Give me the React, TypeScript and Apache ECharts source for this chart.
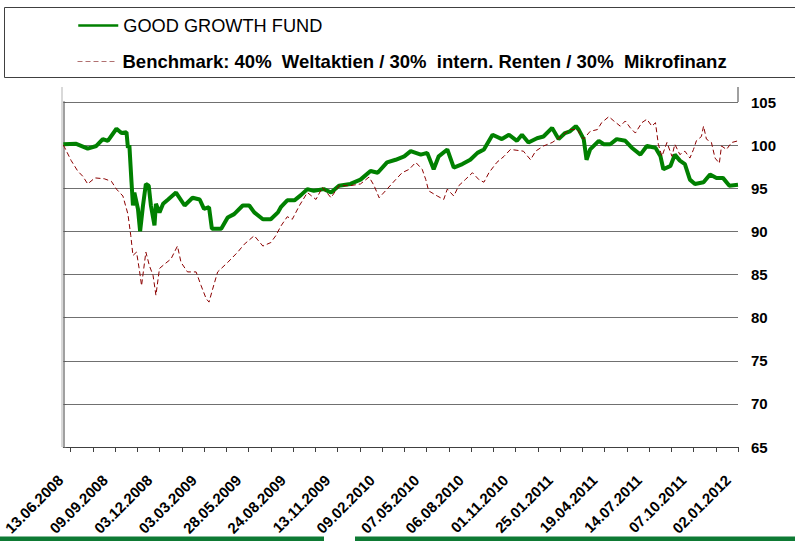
import React, { useEffect, useRef } from "react";
import * as echarts from "echarts";

const FUND_NAME = "GOOD GROWTH FUND";
const BENCH_NAME = "Benchmark: 40%  Weltaktien / 30%  intern. Renten / 30%  Mikrofinanz";

const tickLabels = [
  "13.06.2008", "09.09.2008", "03.12.2008", "03.03.2009", "28.05.2009", "24.08.2009",
  "13.11.2009", "09.02.2010", "07.05.2010", "06.08.2010", "01.11.2010", "25.01.2011",
  "19.04.2011", "14.07.2011", "07.10.2011", "02.01.2012",
];

// [trading day index, value]
const fundSeries: [number, number][] = [
  [0, 100.1], [18, 100.15], [34, 99.6], [46, 99.9], [55, 100.7], [62, 100.5], [74, 101.9], [81, 101.4],
  [88, 101.5], [90, 99.7], [92, 100], [95, 95.7], [97, 93], [99, 94.5], [104, 92.6], [107, 90],
  [111, 93], [115, 95.5], [119, 95.3], [122, 93], [127, 90.7], [129, 93.2], [134, 92.2], [139, 93.2],
  [146, 93.7], [157, 94.5], [169, 93], [180, 93.9], [190, 93.7], [196, 92.6], [203, 92.8], [207, 90.3],
  [220, 90.3], [229, 91.6], [238, 92], [250, 93], [259, 93], [266, 92.2], [278, 91.4], [289, 91.4],
  [299, 92.2], [303, 92.8], [312, 93.6], [322, 93.6], [331, 94.2], [340, 94.9], [349, 94.7], [363, 94.9],
  [373, 94.5], [384, 95.3], [400, 95.5], [414, 96], [428, 97], [438, 96.8], [451, 98], [463, 98.3],
  [475, 98.7], [484, 99.3], [498, 98.9], [507, 99.1], [516, 97.2], [523, 98.7], [535, 99.5], [544, 97.4],
  [556, 97.8], [567, 98.3], [577, 99.1], [586, 99.5], [598, 101.2], [611, 100.7], [621, 101.2], [632, 100.5],
  [639, 101.2], [648, 100.3], [660, 100.8], [669, 101], [681, 102], [690, 100.7], [699, 101.4], [706, 101.6],
  [714, 102.2], [718, 101.8], [725, 100.7], [729, 98.3], [734, 99.5], [746, 100.5], [753, 100.1], [762, 100.1],
  [771, 100.7], [783, 100.5], [792, 99.7], [804, 98.9], [813, 99.9], [825, 99.7], [832, 98.7], [836, 97.2],
  [846, 97.6], [852, 98.9], [859, 98.2], [866, 97.8], [873, 96], [880, 95.5], [892, 95.7], [901, 96.6],
  [910, 96.2], [919, 96.2], [928, 95.3], [940, 95.4],
];

const benchSeries: [number, number][] = [
  [0, 100], [2, 99.7], [11, 98.2], [20, 97], [27, 96.4], [34, 95.5], [44, 96.2], [57, 96.1],
  [67, 95.8], [74, 94.9], [83, 94.1], [90, 92], [94, 89.5], [97, 87.2], [102, 87.6], [106, 85.5],
  [109, 83.7], [115, 87.6], [120, 86], [125, 84.9], [129, 82.6], [134, 85.7], [141, 86.2], [150, 86.8],
  [159, 88.3], [164, 86.4], [173, 85.3], [185, 85.3], [192, 83.7], [199, 82.2], [203, 81.8], [208, 83.3],
  [215, 85.3], [229, 86.4], [243, 87.6], [252, 88.5], [266, 89.5], [278, 88.3], [289, 88.7], [296, 89.5],
  [303, 90.6], [312, 91.7], [319, 91.4], [329, 93], [340, 94.5], [352, 93.7], [361, 95.1], [373, 93.9],
  [384, 95.3], [400, 95.3], [414, 95.5], [426, 96.3], [433, 95.3], [440, 93.9], [451, 94.9], [463, 96],
  [472, 96.8], [482, 97.2], [491, 98], [500, 97.2], [505, 96], [509, 94.7], [521, 94.1], [530, 93.7],
  [535, 94.9], [544, 94.1], [551, 95.3], [560, 96], [570, 96.8], [579, 96], [586, 95.7], [593, 96.8],
  [604, 98], [614, 98.7], [623, 99.5], [632, 99.4], [641, 99.3], [651, 98.3], [658, 99.3], [669, 99.9],
  [681, 100.3], [690, 100.8], [699, 101.4], [706, 101.8], [716, 101.8], [725, 100.7], [734, 101.6], [744, 101.8],
  [750, 102.6], [760, 103.3], [767, 102.8], [776, 102.2], [783, 102.8], [790, 102], [797, 101.4], [806, 102.6],
  [813, 103], [820, 102.2], [825, 102.6], [829, 100.1], [834, 98.7], [841, 100.3], [848, 98.7], [852, 100.1],
  [859, 98.9], [866, 99.3], [873, 98.5], [878, 99.5], [882, 100.5], [889, 101], [892, 102.2], [896, 100.7],
  [903, 100.3], [908, 98.5], [914, 97.9], [917, 99.9], [924, 99.5], [931, 100.3], [940, 100.5],
];

const X_MAX = 940;
const FIRST_TICK = 10;
const TICK_STEP = 31;
const FIRST_LABEL = 1;
const LABEL_STEP = 62;
const Y_MIN = 65;
const Y_MAX = 105;
const Y_STEP = 5;

const FONT = "'Liberation Sans', Arial, sans-serif";

const hiddenSymbol = { color: "transparent", borderColor: "transparent", borderWidth: 0, opacity: 0 };

export default function App() {
  const ref = useRef<HTMLDivElement>(null);

  useEffect(() => {
    document.body.style.margin = "0";
    const chart = echarts.init(ref.current as HTMLDivElement, null, { renderer: "svg" });
    const tickValues: number[] = [];
    for (let v = FIRST_TICK; v <= X_MAX; v += TICK_STEP) tickValues.push(v);
    const labelValues = tickLabels.map((_, k) => FIRST_LABEL + k * LABEL_STEP);

    chart.setOption({
      animation: false,
      backgroundColor: "#ffffff",
      textStyle: { fontFamily: FONT },
      grid: { left: 62, right: 57, top: 102, bottom: 94 },
      legend: [
        {
          data: [{ name: FUND_NAME }],
          left: 77,
          top: 16.5,
          padding: 0,
          itemWidth: 40,
          itemHeight: 14,
          selectedMode: false,
          itemStyle: hiddenSymbol,
          lineStyle: { width: 2.5 },
          textStyle: { fontSize: 18.2, color: "#000", fontFamily: FONT },
          z: 5,
        },
        {
          data: [{ name: BENCH_NAME, textStyle: { fontWeight: "bold" } }],
          left: 77,
          top: 52,
          padding: 0,
          itemWidth: 40,
          itemHeight: 14,
          selectedMode: false,
          itemStyle: hiddenSymbol,
          lineStyle: { width: 1, color: "#b07070" },
          textStyle: { fontSize: 18.5, color: "#000", fontFamily: FONT },
          z: 5,
        },
      ],
      xAxis: {
        type: "value",
        min: 0,
        max: X_MAX,
        axisLine: { show: true, lineStyle: { color: "#404040", width: 1 } },
        axisTick: {
          show: true,
          customValues: tickValues,
          length: 5,
          lineStyle: { color: "#404040" },
        },
        axisLabel: {
          customValues: labelValues,
          rotate: 45,
          margin: 27,
          padding: [0, 5, 0, 0],
          fontSize: 15,
          fontWeight: "bold",
          color: "#000",
          fontFamily: FONT,
          formatter: (v: number) => tickLabels[Math.round((v - FIRST_LABEL) / LABEL_STEP)] ?? "",
        },
        splitLine: { show: false },
      },
      yAxis: {
        type: "value",
        position: "right",
        min: Y_MIN,
        max: Y_MAX,
        interval: Y_STEP,
        axisLine: { show: true, lineStyle: { color: "#a0a0a0", width: 2 } },
        axisTick: { show: true, length: 3, lineStyle: { color: "#606060" } },
        axisLabel: { margin: 13, fontSize: 15, fontWeight: "bold", color: "#000", fontFamily: FONT },
        splitLine: { show: true, lineStyle: { color: "#707070", width: 1 } },
      },
      series: [
        {
          name: FUND_NAME,
          type: "line",
          data: fundSeries,
          symbol: "none",
          showSymbol: false,
          lineStyle: { color: "#008000", width: 4 },
          itemStyle: { color: "#008000" },
        },
        {
          name: BENCH_NAME,
          type: "line",
          data: benchSeries,
          symbol: "none",
          showSymbol: false,
          lineStyle: { color: "#8b0000", width: 1, type: [5, 3] },
          itemStyle: { color: "#8b0000" },
        },
      ],
      graphic: [
        {
          type: "rect",
          z: 0,
          shape: { x: 4.5, y: 7.5, width: 820, height: 70 },
          style: { fill: "#ffffff", stroke: "#404040", lineWidth: 1 },
        },
        {
          type: "line",
          z: 0,
          shape: { x1: 62, y1: 87, x2: 62, y2: 447 },
          style: { stroke: "#d9d9d9", lineWidth: 2 },
        },
        {
          type: "line",
          z: 0,
          shape: { x1: 738, y1: 87, x2: 738, y2: 102 },
          style: { stroke: "#a0a0a0", lineWidth: 2 },
        },
        {
          type: "rect",
          z: 0,
          shape: { x: 0, y: 536.5, width: 324, height: 5 },
          style: { fill: "#0e7a34" },
        },
        {
          type: "rect",
          z: 0,
          shape: { x: 355, y: 536.5, width: 440, height: 5 },
          style: { fill: "#0e7a34" },
        },
      ],
    });
    return () => chart.dispose();
  }, []);

  return (
    <div
      ref={ref}
      style={{ position: "absolute", left: 0, top: 0, width: 795, height: 541, background: "#fff" }}
    />
  );
}
